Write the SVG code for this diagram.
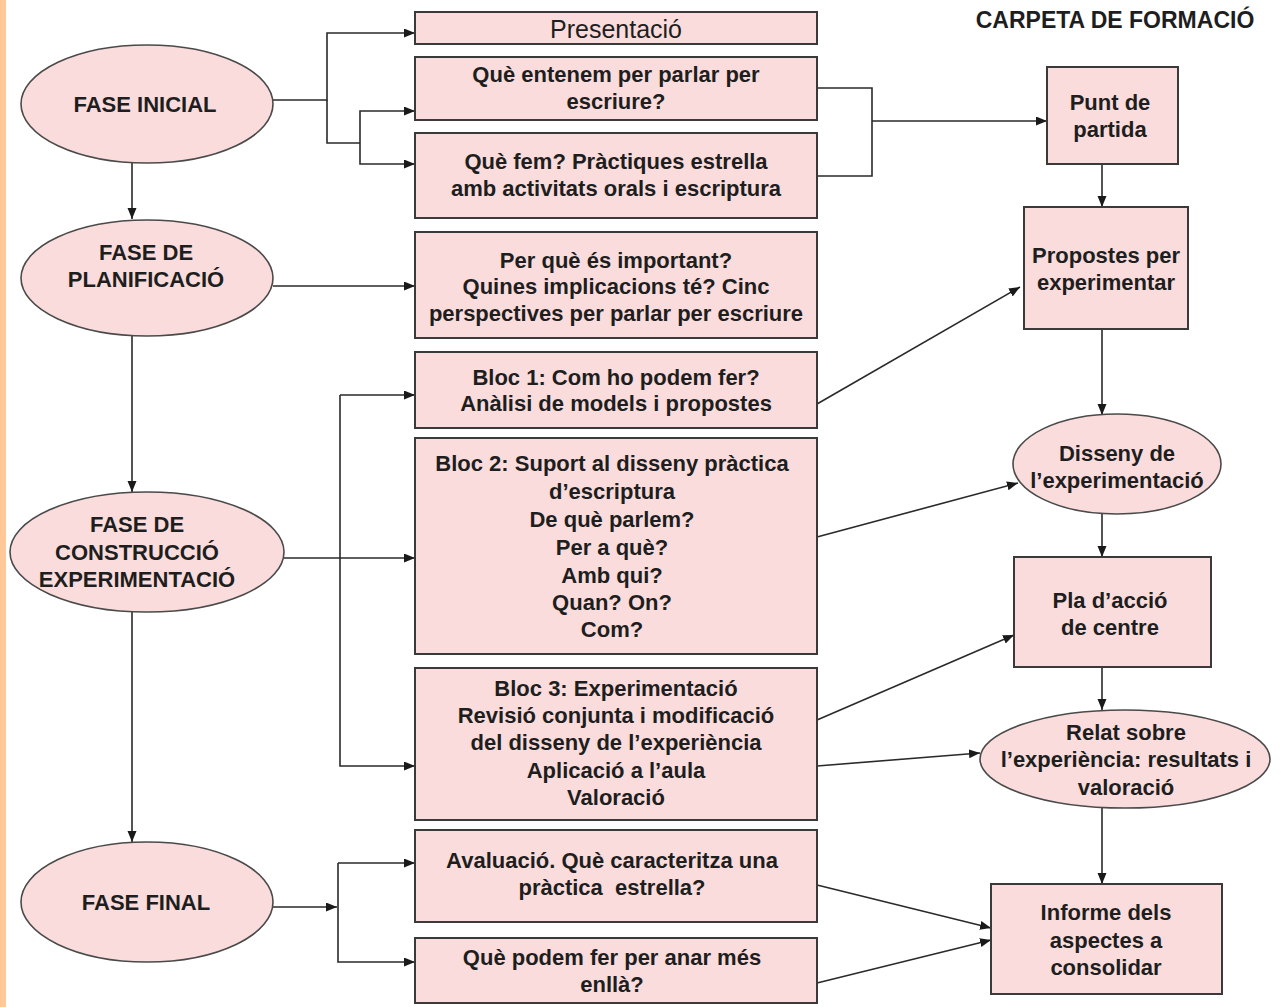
<svg xmlns="http://www.w3.org/2000/svg" width="1282" height="1007" viewBox="0 0 1282 1007">
<style>
  .bx{fill:#fadcdc;stroke:#3a3a3a;stroke-width:2}
  .el{fill:#fadcdc;stroke:#4a4a4a;stroke-width:1.6}
  .t{font-family:"Liberation Sans",Arial,sans-serif;font-size:22px;font-weight:bold;fill:#1e1e1e;text-anchor:middle}
  .r{font-weight:normal;font-size:25px}
  .c{fill:none;stroke:#2a2a2a;stroke-width:1.6}
</style>
<defs>
  <marker id="ah" markerUnits="userSpaceOnUse" markerWidth="12" markerHeight="10" refX="11" refY="4.5" orient="auto">
    <path d="M0,0 L11,4.5 L0,9 z" fill="#1a1a1a"/>
  </marker>
</defs>
<rect x="0" y="0" width="1282" height="1007" fill="#ffffff"/>
<rect x="0" y="0" width="6" height="1007" fill="#ffc898"/>

<g id="connectors">
  <path class="c" d="M273,100 H327 V33 H415" marker-end="url(#ah)"/>
  <path class="c" d="M327,100 V143 H360"/>
  <path class="c" d="M360,143 V111 H415" marker-end="url(#ah)"/>
  <path class="c" d="M360,143 V164 H415" marker-end="url(#ah)"/>
  <path class="c" d="M817,88 H872 V176 H817"/>
  <path class="c" d="M872,121 H1047" marker-end="url(#ah)"/>
  <path class="c" d="M132,163 V219" marker-end="url(#ah)"/>
  <path class="c" d="M132,336 V492" marker-end="url(#ah)"/>
  <path class="c" d="M132,612 V842" marker-end="url(#ah)"/>
  <path class="c" d="M273,286 H415" marker-end="url(#ah)"/>
  <path class="c" d="M284,558 H415" marker-end="url(#ah)"/>
  <path class="c" d="M340,395 H415" marker-end="url(#ah)"/>
  <path class="c" d="M340,395 V766 H415" marker-end="url(#ah)"/>
  <path class="c" d="M273,907 H337" marker-end="url(#ah)"/>
  <path class="c" d="M338,863 H415" marker-end="url(#ah)"/>
  <path class="c" d="M338,863 V962 H415" marker-end="url(#ah)"/>
  <path class="c" d="M1102,164 V207" marker-end="url(#ah)"/>
  <path class="c" d="M1102,329 V415" marker-end="url(#ah)"/>
  <path class="c" d="M1102,514 V557" marker-end="url(#ah)"/>
  <path class="c" d="M1102,667 V710" marker-end="url(#ah)"/>
  <path class="c" d="M1102,808 V884" marker-end="url(#ah)"/>
  <path class="c" d="M817,404 L1020,287" marker-end="url(#ah)"/>
  <path class="c" d="M817,537 L1018,483" marker-end="url(#ah)"/>
  <path class="c" d="M817,720 L1014,635" marker-end="url(#ah)"/>
  <path class="c" d="M817,766 L980,753" marker-end="url(#ah)"/>
  <path class="c" d="M817,885 L991,928" marker-end="url(#ah)"/>
  <path class="c" d="M817,983 L991,940" marker-end="url(#ah)"/>
</g>

<g id="title"><text class="t" x="1115" y="28" style="font-size:23px">CARPETA DE FORMACIÓ</text></g>

<g id="fase-inicial">
  <ellipse class="el" cx="147" cy="104" rx="126" ry="59"/>
  <text class="t" x="145" y="112">FASE INICIAL</text>
</g>
<g id="fase-planificacio">
  <ellipse class="el" cx="147" cy="278" rx="126" ry="58"/>
  <text class="t" x="146" y="260">FASE DE</text>
  <text class="t" x="146" y="287">PLANIFICACIÓ</text>
</g>
<g id="fase-construccio">
  <ellipse class="el" cx="147" cy="552" rx="137" ry="60"/>
  <text class="t" x="137" y="532">FASE DE</text>
  <text class="t" x="137" y="560">CONSTRUCCIÓ</text>
  <text class="t" x="137" y="587">EXPERIMENTACIÓ</text>
</g>
<g id="fase-final">
  <ellipse class="el" cx="147" cy="902" rx="126" ry="60"/>
  <text class="t" x="146" y="910">FASE FINAL</text>
</g>

<g id="presentacio">
  <rect class="bx" x="415" y="12" width="402" height="32"/>
  <text class="t r" x="616" y="38">Presentació</text>
</g>
<g id="que-entenem">
  <rect class="bx" x="415" y="57" width="402" height="63"/>
  <text class="t" x="616" y="82">Què entenem per parlar per</text>
  <text class="t" x="616" y="109">escriure?</text>
</g>
<g id="que-fem">
  <rect class="bx" x="415" y="133" width="402" height="85"/>
  <text class="t" x="616" y="169">Què fem? Pràctiques estrella</text>
  <text class="t" x="616" y="196">amb activitats orals i escriptura</text>
</g>
<g id="per-que">
  <rect class="bx" x="415" y="232" width="402" height="106"/>
  <text class="t" x="616" y="268">Per què és important?</text>
  <text class="t" x="616" y="294">Quines implicacions té? Cinc</text>
  <text class="t" x="616" y="321">perspectives per parlar per escriure</text>
</g>
<g id="bloc1">
  <rect class="bx" x="415" y="352" width="402" height="76"/>
  <text class="t" x="616" y="385">Bloc 1: Com ho podem fer?</text>
  <text class="t" x="616" y="411">Anàlisi de models i propostes</text>
</g>
<g id="bloc2">
  <rect class="bx" x="415" y="438" width="402" height="216"/>
  <text class="t" x="612" y="471">Bloc 2: Suport al disseny pràctica</text>
  <text class="t" x="612" y="499">d’escriptura</text>
  <text class="t" x="612" y="527">De què parlem?</text>
  <text class="t" x="612" y="555">Per a què?</text>
  <text class="t" x="612" y="583">Amb qui?</text>
  <text class="t" x="612" y="610">Quan? On?</text>
  <text class="t" x="612" y="637">Com?</text>
</g>
<g id="bloc3">
  <rect class="bx" x="415" y="668" width="402" height="152"/>
  <text class="t" x="616" y="696">Bloc 3: Experimentació</text>
  <text class="t" x="616" y="723">Revisió conjunta i modificació</text>
  <text class="t" x="616" y="750">del disseny de l’experiència</text>
  <text class="t" x="616" y="778">Aplicació a l’aula</text>
  <text class="t" x="616" y="805">Valoració</text>
</g>
<g id="avaluacio">
  <rect class="bx" x="415" y="830" width="402" height="92"/>
  <text class="t" x="612" y="868">Avaluació. Què caracteritza una</text>
  <text class="t" x="612" y="895" xml:space="preserve">pràctica  estrella?</text>
</g>
<g id="que-podem">
  <rect class="bx" x="415" y="938" width="402" height="65"/>
  <text class="t" x="612" y="965">Què podem fer per anar més</text>
  <text class="t" x="612" y="992">enllà?</text>
</g>

<g id="punt-partida">
  <rect class="bx" x="1047" y="67" width="131" height="97"/>
  <text class="t" x="1110" y="110">Punt de</text>
  <text class="t" x="1110" y="137">partida</text>
</g>
<g id="propostes">
  <rect class="bx" x="1024" y="207" width="164" height="122"/>
  <text class="t" x="1106" y="263">Propostes per</text>
  <text class="t" x="1106" y="290">experimentar</text>
</g>
<g id="disseny">
  <ellipse class="el" cx="1117" cy="464" rx="104" ry="50"/>
  <text class="t" x="1117" y="461">Disseny de</text>
  <text class="t" x="1117" y="488">l’experimentació</text>
</g>
<g id="pla-accio">
  <rect class="bx" x="1014" y="557" width="197" height="110"/>
  <text class="t" x="1110" y="608">Pla d’acció</text>
  <text class="t" x="1110" y="635">de centre</text>
</g>
<g id="relat">
  <ellipse class="el" cx="1125" cy="759" rx="145" ry="49"/>
  <text class="t" x="1126" y="740">Relat sobre</text>
  <text class="t" x="1126" y="767">l’experiència: resultats i</text>
  <text class="t" x="1126" y="795">valoració</text>
</g>
<g id="informe">
  <rect class="bx" x="991" y="884" width="231" height="110"/>
  <text class="t" x="1106" y="920">Informe dels</text>
  <text class="t" x="1106" y="948">aspectes a</text>
  <text class="t" x="1106" y="975">consolidar</text>
</g>
</svg>
